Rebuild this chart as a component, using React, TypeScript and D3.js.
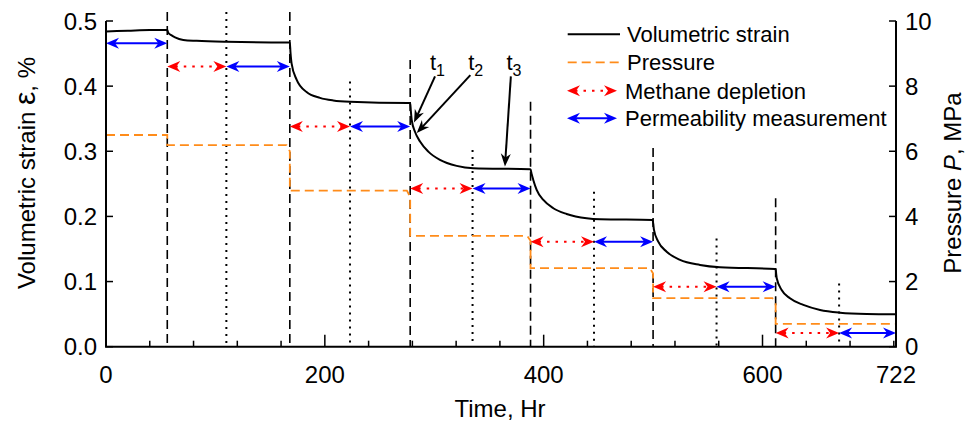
import React from 'react';
import * as d3 from 'd3';

// ---------------- data ----------------
const strainTime = [
  0, 20, 40, 56,
  56.9, 60, 63.1, 70.6, 82.9, 110, 166.6, 168,
  168.6, 169.6, 174.2, 183.3, 195.6, 207.7, 223, 276.3, 278,
  278.6, 279.4, 282.4, 287, 294.6, 305.2, 320.5, 335.7, 387.5, 388,
  389, 390.5, 393.6, 399.7, 408.8, 421, 439.3, 451.5, 499.5,
  500.2, 500.8, 504.7, 512.4, 524.6, 542.9, 561.1, 611.4, 612,
  612.5, 613, 617.5, 625.1, 637.3, 652.6, 670.9, 695.2, 722,
];
const strainValue = [
  0.484, 0.485, 0.486, 0.486,
  0.482, 0.478, 0.475, 0.471, 0.4695, 0.468, 0.467, 0.467,
  0.452, 0.435, 0.41, 0.391, 0.382, 0.378, 0.376, 0.374, 0.374,
  0.362, 0.348, 0.33, 0.315, 0.2995, 0.2868, 0.2776, 0.274, 0.2725, 0.2723,
  0.265, 0.256, 0.2407, 0.2253, 0.2126, 0.2038, 0.1972, 0.1957, 0.1946,
  0.188, 0.1793, 0.1613, 0.1459, 0.1332, 0.1255, 0.122, 0.1194, 0.1192,
  0.112, 0.105, 0.0871, 0.0743, 0.0641, 0.0564, 0.0522, 0.0502, 0.0497,
];

const pressureTime = [0, 56, 56, 165, 168, 168, 275, 278, 278, 385, 388, 388, 497, 500, 500, 609, 612, 612, 722];
const pressureValue = [6.5, 6.5, 6.19, 6.19, 6.0, 4.79, 4.79, 4.6, 3.4, 3.4, 3.25, 2.41, 2.41, 2.25, 1.49, 1.49, 1.35, 0.7, 0.7];

const stageStart = [56, 168, 278, 388, 500, 612];
const depletionEnd = [110, 223, 335, 446, 558, 670];
const stageEnd = [168, 278, 388, 500, 612, 722];
const stageLineTop = [0.514, 0.514, 0.44, 0.376, 0.305, 0.228];
const depletionLineTop = [0.514, 0.407, 0.302, 0.238, 0.166, 0.097];
const arrowLevel = [0.43, 0.338, 0.243, 0.161, 0.092, 0.021];
const initialArrow = { from: 0, to: 56, level: 0.466 };

const xTicks = d3.range(0, 721, 40);
const xMajor = [0, 200, 400, 600];
const xLabels = [0, 200, 400, 600, 722];
const yLeftTicks = [0, 0.1, 0.2, 0.3, 0.4, 0.5];
const yRightTicks = [0, 2, 4, 6, 8, 10];

const annotations = [
  { sub: '1', textT: 296, tailT: 300.7, tailS: 0.415, tipT: 281.5, tipS: 0.344 },
  { sub: '2', textT: 331, tailT: 333, tailS: 0.417, tipT: 284, tipS: 0.328 },
  { sub: '3', textT: 366, tailT: 370, tailS: 0.415, tipT: 364.6, tipS: 0.2765 },
];
const annotationTextS = 0.425;

const legendItems = ['Volumetric strain', 'Pressure', 'Methane depletion', 'Permeability measurement'];

// ---------------- layout ----------------
const W = 978;
const H = 429;
const X0 = 106;
const X1 = 896;
const Y0 = 346.7;
const Y1 = 21;
const FONT = '"Liberation Sans", Arial, Helvetica, sans-serif';
const ORANGE = '#FF8C1A';

const x = d3.scaleLinear().domain([0, 722]).range([X0, X1]);
const yL = d3.scaleLinear().domain([0, 0.5]).range([Y0, Y1]);
const yR = d3.scaleLinear().domain([0, 10]).range([Y0, Y1]);

function head(tx: number, ty: number, ang: number, L = 13, Wd = 5.5, notch = 4) {
  const c = Math.cos(ang), s = Math.sin(ang);
  const pt = (a: number, b: number) => [tx + a * c - b * s, ty + a * s + b * c];
  const p = [pt(0, 0), pt(-L, -Wd), pt(-L + notch, 0), pt(-L, Wd)];
  return 'M' + p.map((q) => q.join(',')).join('L') + 'Z';
}

function DoubleArrow({ x1, x2, y, color, dotted }: { x1: number; x2: number; y: number; color: string; dotted: boolean }) {
  return (
    <g>
      <line x1={x1 + 8} x2={x2 - 8} y1={y} y2={y} stroke={color} strokeWidth={2}
        strokeDasharray={dotted ? '2.5,6' : undefined} />
      <path d={head(x1, y, Math.PI)} fill={color} />
      <path d={head(x2, y, 0)} fill={color} />
    </g>
  );
}

export default function App() {
  const strainLine = d3.line<number>()
    .x((_, i) => x(strainTime[i]))
    .y((d) => yL(d))
    .curve(d3.curveMonotoneX);
  const pressureLine = d3.line<number>()
    .x((_, i) => x(pressureTime[i]))
    .y((d) => yR(d));

  const legendY = [34.3, 62.3, 90.7, 118.3];

  return (
    <svg width={W} height={H} style={{ position: 'absolute', left: 0, top: 0, background: '#fff' }}
      fontFamily={FONT}>
      {/* vertical stage lines */}
      {stageStart.map((t, i) => (
        <line key={'s' + i} x1={x(t)} x2={x(t)} y1={yL(stageLineTop[i])} y2={Y0}
          stroke="#000" strokeWidth={1.6} strokeDasharray="9,5" />
      ))}
      {depletionEnd.map((t, i) => (
        <line key={'d' + i} x1={x(t)} x2={x(t)} y1={yL(depletionLineTop[i])} y2={Y0}
          stroke="#000" strokeWidth={2} strokeDasharray="2,5" />
      ))}

      {/* pressure */}
      <path d={pressureLine(pressureValue) || ''} fill="none" stroke={ORANGE} strokeWidth={1.8}
        strokeDasharray="9,5" />
      {/* strain */}
      <path d={strainLine(strainValue) || ''} fill="none" stroke="#000" strokeWidth={2} />

      {/* arrows */}
      <DoubleArrow x1={x(initialArrow.from)} x2={x(initialArrow.to)} y={yL(initialArrow.level)} color="#0000FF" dotted={false} />
      {stageStart.map((t, i) => (
        <g key={'a' + i}>
          <DoubleArrow x1={x(t)} x2={x(depletionEnd[i])} y={yL(arrowLevel[i])} color="#FF0000" dotted />
          <DoubleArrow x1={x(depletionEnd[i])} x2={x(stageEnd[i])} y={yL(arrowLevel[i])} color="#0000FF" dotted={false} />
        </g>
      ))}

      {/* annotations */}
      {annotations.map((a, i) => {
        const tx = x(a.tipT), ty = yL(a.tipS);
        const sx = x(a.tailT), sy = yL(a.tailS);
        const ang = Math.atan2(ty - sy, tx - sx);
        return (
          <g key={'t' + i}>
            <line x1={sx} y1={sy} x2={tx - 8 * Math.cos(ang)} y2={ty - 8 * Math.sin(ang)} stroke="#000" strokeWidth={2} />
            <path d={head(tx, ty, ang, 13, 5, 4)} fill="#000" />
            <text x={x(a.textT)} y={yL(annotationTextS)} fontSize={22}>
              t<tspan fontSize={16} dy={6}>{a.sub}</tspan>
            </text>
          </g>
        );
      })}

      {/* axes */}
      <line x1={X0} x2={X0} y1={Y1} y2={Y0} stroke="#000" strokeWidth={2} />
      <line x1={X1} x2={X1} y1={Y1} y2={Y0} stroke="#000" strokeWidth={2} />
      <line x1={X0 - 1} x2={X1 + 1} y1={Y0} y2={Y0} stroke="#000" strokeWidth={2} />
      {xTicks.map((t) => (
        <line key={'xt' + t} x1={x(t)} x2={x(t)} y1={Y0} y2={Y0 - (xMajor.includes(t) ? 12 : 6)}
          stroke="#000" strokeWidth={1.5} />
      ))}
      {xLabels.map((t) => (
        <text key={'xl' + t} x={x(t)} y={382.5} fontSize={24} textAnchor="middle">{t}</text>
      ))}
      {yLeftTicks.map((v) => (
        <g key={'yl' + v}>
          <line x1={X0} x2={X0 + 7} y1={yL(v)} y2={yL(v)} stroke="#000" strokeWidth={1.5} />
          <text x={97} y={yL(v) + 8.5} fontSize={24} textAnchor="end">{v.toFixed(1)}</text>
        </g>
      ))}
      {yRightTicks.map((v) => (
        <g key={'yr' + v}>
          <line x1={X1} x2={X1 - 7} y1={yR(v)} y2={yR(v)} stroke="#000" strokeWidth={1.5} />
          <text x={905} y={yR(v) + 8.5} fontSize={24} textAnchor="start">{v}</text>
        </g>
      ))}

      {/* axis titles */}
      <text x={500} y={417} fontSize={24} textAnchor="middle">Time, Hr</text>
      <text transform="translate(35,173) rotate(-90)" fontSize={24} textAnchor="middle">
        Volumetric strain <tspan fontSize={30}>ε</tspan>, %
      </text>
      <text transform="translate(961,183) rotate(-90)" fontSize={24} textAnchor="middle">
        Pressure <tspan fontStyle="italic">P</tspan>, MPa
      </text>

      {/* legend */}
      <line x1={567.7} x2={620} y1={legendY[0]} y2={legendY[0]} stroke="#000" strokeWidth={2} />
      <line x1={567.7} x2={620} y1={legendY[1]} y2={legendY[1]} stroke={ORANGE} strokeWidth={1.8} strokeDasharray="9,5" />
      <DoubleArrow x1={567} x2={617} y={legendY[2]} color="#FF0000" dotted />
      <DoubleArrow x1={567} x2={617} y={legendY[3]} color="#0000FF" dotted={false} />
      {legendItems.map((s, i) => (
        <text key={'lg' + i} x={i >= 2 ? 625 : 627} y={legendY[i] + 7.8} fontSize={22}>{s}</text>
      ))}
    </svg>
  );
}
